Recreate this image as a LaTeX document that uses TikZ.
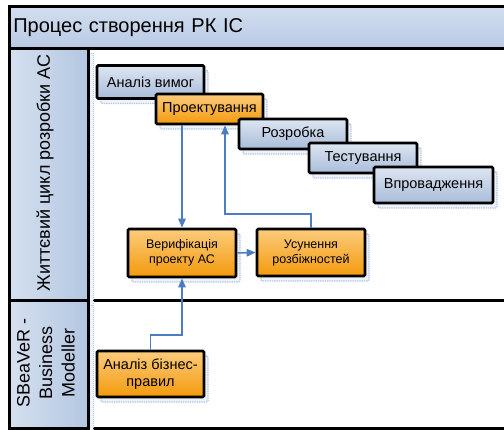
\documentclass[tikz,border=0pt]{standalone}
\usepackage{fontspec}
\setmainfont{Liberation Sans}
\usetikzlibrary{arrows.meta,shadows}
\definecolor{bluetop}{HTML}{DDE6F2}
\definecolor{bluebot}{HTML}{A9BCD9}
\definecolor{orgtop}{HTML}{FCCB7C}
\definecolor{orgbot}{HTML}{F39A0C}
\definecolor{hdrl}{HTML}{D5E0EF}
\definecolor{hdrr}{HTML}{B3C6E1}
\definecolor{ttop}{HTML}{D2DEEF}
\definecolor{tbot}{HTML}{B8CAE3}
\definecolor{arrowblue}{HTML}{4A7EBF}
\definecolor{ghostfill}{HTML}{EEF2F9}
\definecolor{ghostline}{HTML}{B0C2E2}
\tikzset{
  ghost/.style={general shadow={shadow xshift=4pt, shadow yshift=-5pt,
      fill=ghostfill, draw=ghostline, densely dotted, line width=1.3pt}},
  boxbase/.style={draw=black, line width=2.7pt, rounded corners=1.2pt,
      align=center, inner sep=2pt, ghost},
  bluebox/.style={boxbase, top color=bluetop, bottom color=bluebot,
      font=\fontsize{14.5}{17}\selectfont},
  orangebox/.style={boxbase, top color=orgtop, bottom color=orgbot},
  lanebox/.style={draw=black, line width=2.6pt, fill=white, inner sep=0pt},
  lanehead/.style={draw=black, line width=2.6pt, left color=hdrl, right color=hdrr,
      inner sep=0pt, general shadow={shadow xshift=5pt, shadow yshift=-5pt,
      fill=ghostfill, draw=ghostline, densely dotted, line width=1pt}},
  flow/.style={draw=arrowblue, line width=1.5pt, -{Triangle[length=9pt,width=7.5pt]}},
}
\begin{document}
\begin{tikzpicture}[x=1pt,y=-1pt]
\useasboundingbox (0,0) rectangle (504,430);
\clip (0,0) rectangle (504,430);
% lanes
\node[lanebox, anchor=north west, minimum width=440pt, minimum height=252pt] (lane1) at (87,47) {};
\node[lanebox, anchor=north west, minimum width=440pt, minimum height=128pt] (lane2) at (87,299) {};
% lane headers
\node[lanehead, anchor=north west, minimum width=79pt, minimum height=252pt] (head1) at (8,47) {};
\node[lanehead, anchor=north west, minimum width=79pt, minimum height=128pt] (head2) at (8,299) {};
\node[rotate=90, font=\fontsize{18}{21}\selectfont] (head1text) at (45,173) {Життєвий цикл розробки АС};
\node[rotate=90, align=center, font=\fontsize{18}{22.5}\selectfont] (head2text) at (46,363) {SBeaVeR -\\Business\\Modeller};
% title bar
\node[draw=black, line width=2.6pt, top color=ttop, bottom color=tbot, anchor=north west,
      minimum width=520pt, minimum height=42pt, text width=512pt, align=left, inner xsep=4pt,
      font=\fontsize{20}{24}\selectfont] (title) at (8,5) {Процес створення РК ІС};
% stages
\node[bluebox, minimum width=107pt, minimum height=33pt] (a1) at (150.5,82) {Аналіз вимог};
\node[orangebox, font=\fontsize{14.5}{17}\selectfont, minimum width=107pt, minimum height=30pt] (a2) at (209.5,109) {Проектування};
\node[bluebox, minimum width=108pt, minimum height=30pt] (a3) at (293,134) {Розробка};
\node[bluebox, minimum width=108pt, minimum height=30pt] (a4) at (363,158) {Тестування};
\node[bluebox, minimum width=119pt, minimum height=36pt] (a5) at (433.5,185) {Впровадження};
\node[orangebox, font=\fontsize{12.5}{15}\selectfont, minimum width=108pt, minimum height=48pt] (v) at (182,253) {Верифікація\\проекту АС};
\node[orangebox, font=\fontsize{12.5}{15}\selectfont, minimum width=108pt, minimum height=47pt] (u) at (311,252.5) {Усунення\\розбіжностей};
\node[orangebox, font=\fontsize{14.5}{17}\selectfont, minimum width=107pt, minimum height=46pt] (b) at (150.5,374) {Аналіз бізнес-\\правил};
% connectors
\draw[flow] (v.north |- a2.south) -- (v.north);
\draw[flow] (v.east) -- (u.west);
\draw[flow] (u.north) -- (u.north |- 0,214) -| ([xshift=15.5pt]a2.south);
\draw[flow] (b.north) -- (b.north |- 0,335) -| (v.south);
\end{tikzpicture}
\end{document}
